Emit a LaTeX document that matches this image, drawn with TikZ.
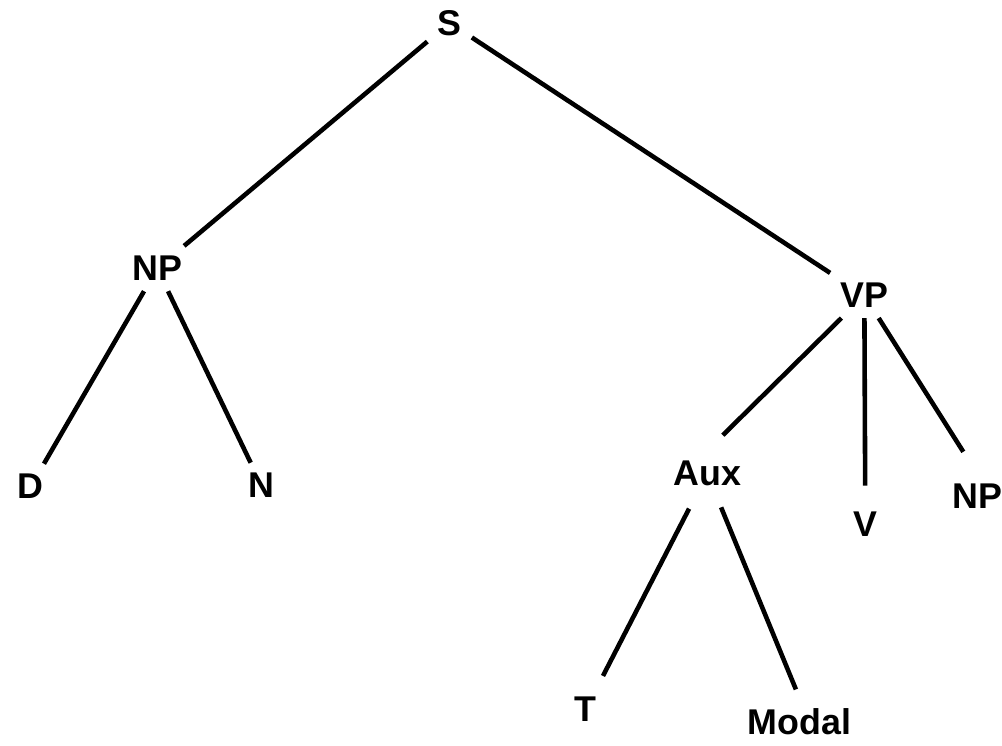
\documentclass[tikz,border=0pt]{standalone}
\usepackage{fontspec}
\setmainfont{Liberation Sans}
\begin{document}
\begin{tikzpicture}[x=0.5pt, y=-0.5pt,
        word/.style={font=\fontsize{18}{20}\selectfont\bfseries, inner sep=5pt},
        branch/.style={line width=2.3pt}]
            \fill[white] (0, 0) rectangle (1002, 746);

            \node[word] (s) at (452, 23) {S};

            \node[word] (np1) at (158, 270) {NP};
            \node[word] (vp) at (869, 297) {VP};

            \node[word] (d) at (31, 489) {D};
            \node[word] (n) at (263, 488) {N};

            \node[word] (aux) at (711, 476) {Aux};
            \node[word] (v) at (870, 527) {V};
            \node[word, anchor=west, inner xsep=0pt] (np2) at (957, 499) {NP};

            \node[word] (t) at (589, 713) {T};
            \node[word] (modal) at (804, 726) {Modal};

            \draw [branch] (s) -- (np1);
            \draw [branch] (s) -- (vp);
            \draw [branch] (np1) -- (d);
            \draw [branch] (np1) -- (n);
            \draw [branch, shorten >=11pt] (vp) -- (aux.north);
            \draw [branch, shorten >=8pt] (vp) -- (v);
            \draw [branch, shorten >=13pt] (vp) -- (np2.north);
            \draw [branch, shorten <=7pt, shorten >=6pt] (aux) -- (t);
            \draw [branch, shorten <=6pt, shorten >=5pt] (aux) -- (modal.north);
    \end{tikzpicture}
\end{document}
